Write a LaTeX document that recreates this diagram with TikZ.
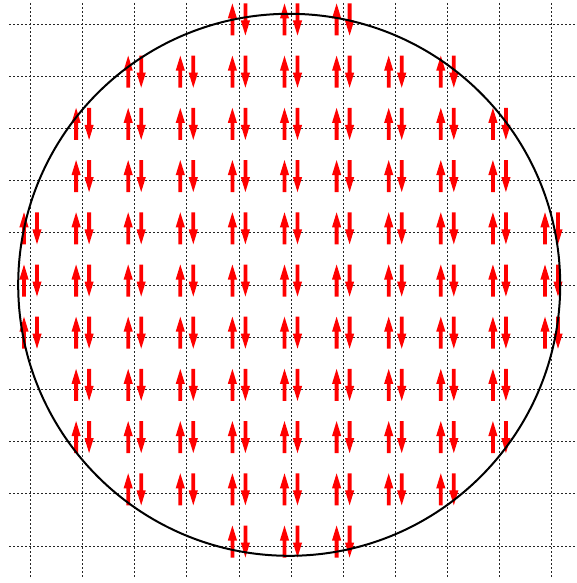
\documentclass[tikz,border=0pt]{standalone}
\begin{document}
\begin{tikzpicture}[x=1pt,y=-1pt,
  gridline/.style={black!85,line width=0.8pt,dash pattern=on 2pt off 2pt},
  spinfill/.style={red},
  rim/.style={black,line width=2pt}]
\useasboundingbox (0,0) rectangle (576,583);
% grid
\foreach \i in {0,...,10}{
  \pgfmathsetmacro{\gx}{30.5+52.1*\i}
  \draw[gridline] (\gx,3) -- (\gx,577);
}
\foreach \j in {0,...,10}{
  \pgfmathsetmacro{\gy}{24+52.2*\j}
  \draw[gridline] (9,\gy) -- (576,\gy);
}
% spin pairs
\foreach \i in {0,...,10}{
  \foreach \j in {0,...,10}{
    \pgfmathsetmacro{\dd}{(\i-5)*(\i-5)+(\j-5)*(\j-5)}
    \pgfmathparse{\dd<27.1 ? 1 : 0}
    \ifnum\pgfmathresult=1
      \pgfmathsetmacro{\gx}{30.5+52.1*\i}
      \pgfmathsetmacro{\gy}{24+52.2*\j}
      % up arrow
      \begin{scope}[shift={(\gx-6.5,\gy)}]
        \fill[spinfill] (-1.9,11.5) -- (-1.9,-5.5) -- (-4.6,-5.5) -- (0,-20.5)
          -- (4.6,-5.5) -- (1.9,-5.5) -- (1.9,11.5) -- cycle;
      \end{scope}
      % down arrow
      \begin{scope}[shift={(\gx+6.5,\gy)}]
        \fill[spinfill] (-1.9,-20.5) -- (-1.9,-3.5) -- (-4.6,-3.5) -- (0,11.5)
          -- (4.6,-3.5) -- (1.9,-3.5) -- (1.9,-20.5) -- cycle;
      \end{scope}
    \fi
  }
}
% wafer rim
\node[circle,draw=none,minimum size=542pt,inner sep=0pt] (wafer) at (289.2,284.8) {};
\draw[rim] (wafer.center) circle[radius=271];
\end{tikzpicture}
\end{document}
